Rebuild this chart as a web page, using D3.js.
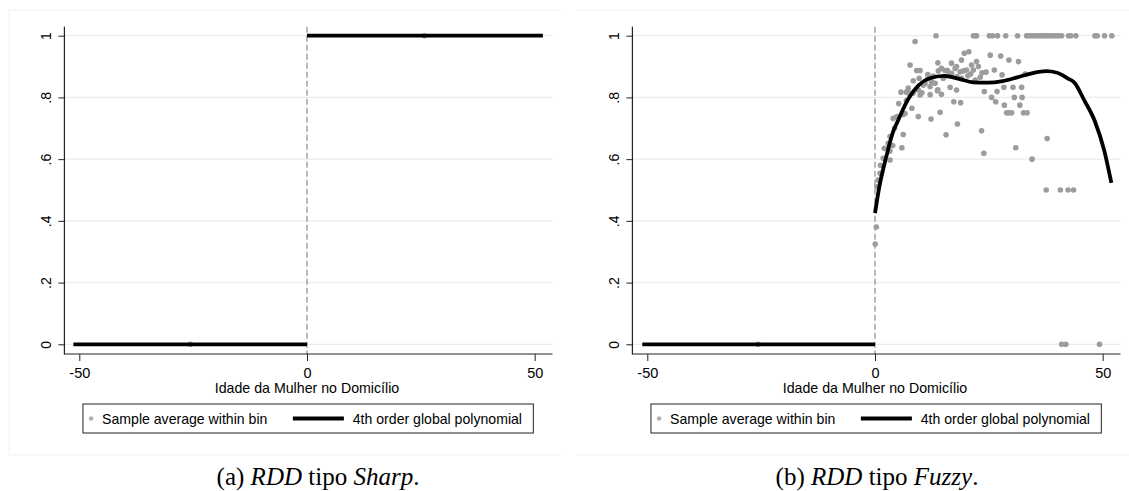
<!DOCTYPE html>
<html><head><meta charset="utf-8">
<script src="https://cdn.jsdelivr.net/npm/d3@7"></script>
<style>body{margin:0;background:#fff}svg{display:block}</style>
</head><body><svg id="c" width="1129" height="491"></svg>
<script>
// ---------- data ----------
const yTicks = [0, 0.2, 0.4, 0.6, 0.8, 1];
const yTickLabels = ["0", ".2", ".4", ".6", ".8", "1"];
const xTicks = [-50, 0, 50];
const xTickLabels = ["-50", "0", "50"];
const xTitle = "Idade da Mulher no Domicílio";
const legendLabels = ["Sample average within bin", "4th order global polynomial"];

// Sharp RDD
const sharpBinX = [-25.6, 25.8];
const sharpBinY = [0, 1];
const sharpPolyLeftX = [-51.3, 0];
const sharpPolyLeftY = [0, 0];
const sharpPolyRightX = [0, 51.8];
const sharpPolyRightY = [1, 1];

// Fuzzy RDD
const fuzzyBinX = [
  13.4,21.6,22.0,22.3,25.1,25.8,26.9,28.7,31.3,33.3,33.8,34.4,34.9,35.5,36.1,36.6,37.2,37.7,38.2,38.8,39.3,39.9,40.4,41.0,42.5,43.0,44.1,48.3,48.8,50.4,52.0,
  8.8,7.7,9.15,9.9,13.8,14.6,16.8,17.9,19.0,19.6,20.6,21.2,22.3,22.7,25.3,27.6,29.4,31.5,15.4,15.9,17.6,20.1,21.6,18.7,26.2,13.9,19.4,
  8.4,9.7,11.6,5.7,6.9,7.5,8.4,9.5,10.3,9.9,11.7,12.4,13.2,12.1,12.1,13.8,13.7,14.6,16.5,17.9,23.1,22.0,24.4,27.9,33.0,24.0,25.6,26.8,28.3,30.3,32.2,30.6,32.3,15.0,16.0,16.8,18.0,19.0,20.4,21.0,23.5,12.8,11.0,10.6,7.3,
  26.5,17.3,18.8,28.4,31.8,28.9,29.4,30.0,32.6,33.4,8.1,6.6,6.2,4.8,4.0,9.5,12.3,14.3,18.1,5.2,6.9,4.3,
  15.6,23.4,23.9,30.9,37.8,34.5,6.2,5.9,3.3,2.9,3.9,3.3,2.05,1.8,3.3,1.2,1.1,0.7,0.4,37.6,40.7,42.4,43.6,0.3,0.05,41.0,41.9,49.3,-25.7
];
const fuzzyBinY = [
  1,1,1,1,1,1,1,1,1,1,1,1,1,1,1,1,1,1,1,1,1,1,1,1,1,1,1,1,1,1,1,
  .981,.905,.887,.887,.912,.894,.911,.900,.921,.943,.948,.905,.916,.900,.937,.934,.921,.916,.887,.887,.894,.889,.889,.883,.889,.886,.886,
  .854,.862,.874,.817,.817,.813,.814,.824,.815,.808,.865,.851,.846,.835,.809,.825,.822,.810,.833,.824,.865,.856,.882,.873,.876,.819,.800,.819,.833,.833,.833,.800,.800,.862,.870,.878,.868,.862,.870,.876,.880,.869,.845,.840,.830,
  .786,.786,.783,.775,.775,.750,.750,.750,.750,.750,.765,.748,.745,.738,.732,.738,.730,.752,.714,.780,.790,.700,
  .679,.692,.619,.637,.667,.600,.680,.637,.673,.651,.644,.626,.635,.603,.597,.580,.554,.532,.511,.5,.5,.5,.5,.380,.325,0,0,0,0
];
const fuzzyPolyLeftX = [-51.1, 0];
const fuzzyPolyLeftY = [0, 0];
const fuzzyPolyRightX = [0, 0.9, 2.5, 4.0, 4.9, 7.3, 9.6, 12, 15.2, 18.4, 21.6, 24.8, 28, 31.2, 34.4, 37.6, 40, 42.3, 43.9, 45.9, 48.3, 50.3, 51.9];
const fuzzyPolyRightY = [0.425, 0.506, 0.609, 0.69, 0.72, 0.795, 0.84, 0.862, 0.870, 0.860, 0.849, 0.848, 0.853, 0.865, 0.878, 0.885, 0.880, 0.862, 0.846, 0.792, 0.722, 0.630, 0.523];

// ---------- drawing ----------
const svg = d3.select("#c");
svg.append("rect").attr("width",1129).attr("height",491).attr("fill","#fff");
const SANS = "'Liberation Sans', Arial, sans-serif";
const SERIF = "'Liberation Serif', 'Times New Roman', serif";
const GRID = "#e4edf0", PT = "#9c9c9c";

function zip(a, b) { return a.map((v, i) => [v, b[i]]); }

function panel(cx, bx, by, polys, frame, captionParts, capX) {
  const g = svg.append("g");
  const x = d3.scaleLinear().domain([-50, 50]).range([cx - 227.7, cx + 227.7]);
  const y = d3.scaleLinear().domain([0, 1]).range([344.3, 35.7]);
  const L = x(-53.27), R = x(53.9), T = y(1.029), B = 354;

  // faint outer frame of the exported graph
  g.append("path").attr("d", frame).attr("fill", "none").attr("stroke", "#edf1f3").attr("stroke-width", 1);

  // gridlines
  g.append("g").selectAll("line").data(yTicks).join("line")
    .attr("x1", L).attr("x2", R).attr("y1", d => y(d)).attr("y2", d => y(d))
    .attr("stroke", GRID).attr("stroke-width", 1.2);

  // cutoff
  g.append("line").attr("x1", x(0)).attr("x2", x(0)).attr("y1", T).attr("y2", B)
    .attr("stroke", "#777").attr("stroke-width", 1).attr("stroke-dasharray", "6,3");

  // points
  g.append("g").selectAll("circle").data(zip(bx, by)).join("circle")
    .attr("cx", d => x(d[0])).attr("cy", d => y(d[1])).attr("r", 2.8).attr("fill", PT);

  // polynomial fits
  const line = d3.line().x(d => x(d[0])).y(d => y(d[1])).curve(d3.curveMonotoneX);
  polys.forEach(p => g.append("path").attr("d", line(zip(p[0], p[1])))
    .attr("fill", "none").attr("stroke", "#000").attr("stroke-width", 3.8));

  // axes
  const ya = g.append("g").attr("transform", `translate(${L},0)`)
    .call(d3.axisLeft(y).tickValues(yTicks).tickFormat((d, i) => yTickLabels[i]).tickSize(6));
  ya.select(".domain").remove();
  ya.selectAll("line").attr("stroke", "#222");
  ya.selectAll("text").attr("transform", "rotate(-90)").attr("x", 0).attr("y", -13).attr("dy", 0)
    .attr("text-anchor", "middle").attr("font-family", SANS).attr("font-size", 14).attr("fill", "#000");

  const xa = g.append("g").attr("transform", `translate(0,${B})`)
    .call(d3.axisBottom(x).tickValues(xTicks).tickFormat((d, i) => xTickLabels[i]).tickSize(7));
  xa.select(".domain").remove();
  xa.selectAll("line").attr("stroke", "#222");
  xa.selectAll("text").attr("y", 24).attr("dy", 0).attr("font-family", SANS).attr("font-size", 14.5).attr("fill", "#000");

  g.append("line").attr("x1", L).attr("x2", L).attr("y1", T).attr("y2", B + 0.5).attr("stroke", "#222").attr("stroke-width", 1.2);
  g.append("line").attr("x1", L).attr("x2", R).attr("y1", B).attr("y2", B).attr("stroke", "#222").attr("stroke-width", 1.2);

  g.append("text").attr("x", x(0)).attr("y", 393).attr("text-anchor", "middle")
    .attr("font-family", SANS).attr("font-size", 14.2).text(xTitle);

  // legend
  const lg = g.append("g");
  lg.append("rect").attr("x", x(-49.2)).attr("y", 404).attr("width", x(49.7) - x(-49.2)).attr("height", 29)
    .attr("fill", "#fff").attr("stroke", "#222").attr("stroke-width", 1);
  lg.append("circle").attr("cx", x(-47.4)).attr("cy", 418.5).attr("r", 2.2).attr("fill", "#b0b0b0");
  lg.append("text").attr("x", x(-45)).attr("y", 424).attr("font-family", SANS).attr("font-size", 14.1).text(legendLabels[0]);
  lg.append("line").attr("x1", x(-3.1)).attr("x2", x(8.1)).attr("y1", 418.5).attr("y2", 418.5)
    .attr("stroke", "#000").attr("stroke-width", 3.8);
  lg.append("text").attr("x", x(10.05)).attr("y", 424).attr("font-family", SANS).attr("font-size", 14.1).text(legendLabels[1]);

  // caption
  const cap = svg.append("text").attr("x", capX).attr("y", 485).attr("text-anchor", "middle")
    .attr("font-family", SERIF).attr("font-size", 25).attr("fill", "#000");
  captionParts.forEach(p => cap.append("tspan").attr("font-style", p[1] ? "italic" : "normal").text(p[0]));
}

panel(307, sharpBinX, sharpBinY,
  [[sharpPolyLeftX, sharpPolyLeftY], [sharpPolyRightX, sharpPolyRightY]],
  "M9,10H562M9,10V455M9,455H562",
  [["(a) ", false], ["RDD", true], [" tipo ", false], ["Sharp", true], [".", false]], 318);

panel(875, fuzzyBinX, fuzzyBinY,
  [[fuzzyPolyLeftX, fuzzyPolyLeftY], [fuzzyPolyRightX, fuzzyPolyRightY]],
  "M576,10H1129M576,455H1129",
  [["(b) ", false], ["RDD", true], [" tipo ", false], ["Fuzzy", true], [".", false]], 877);
</script>
</body></html>
